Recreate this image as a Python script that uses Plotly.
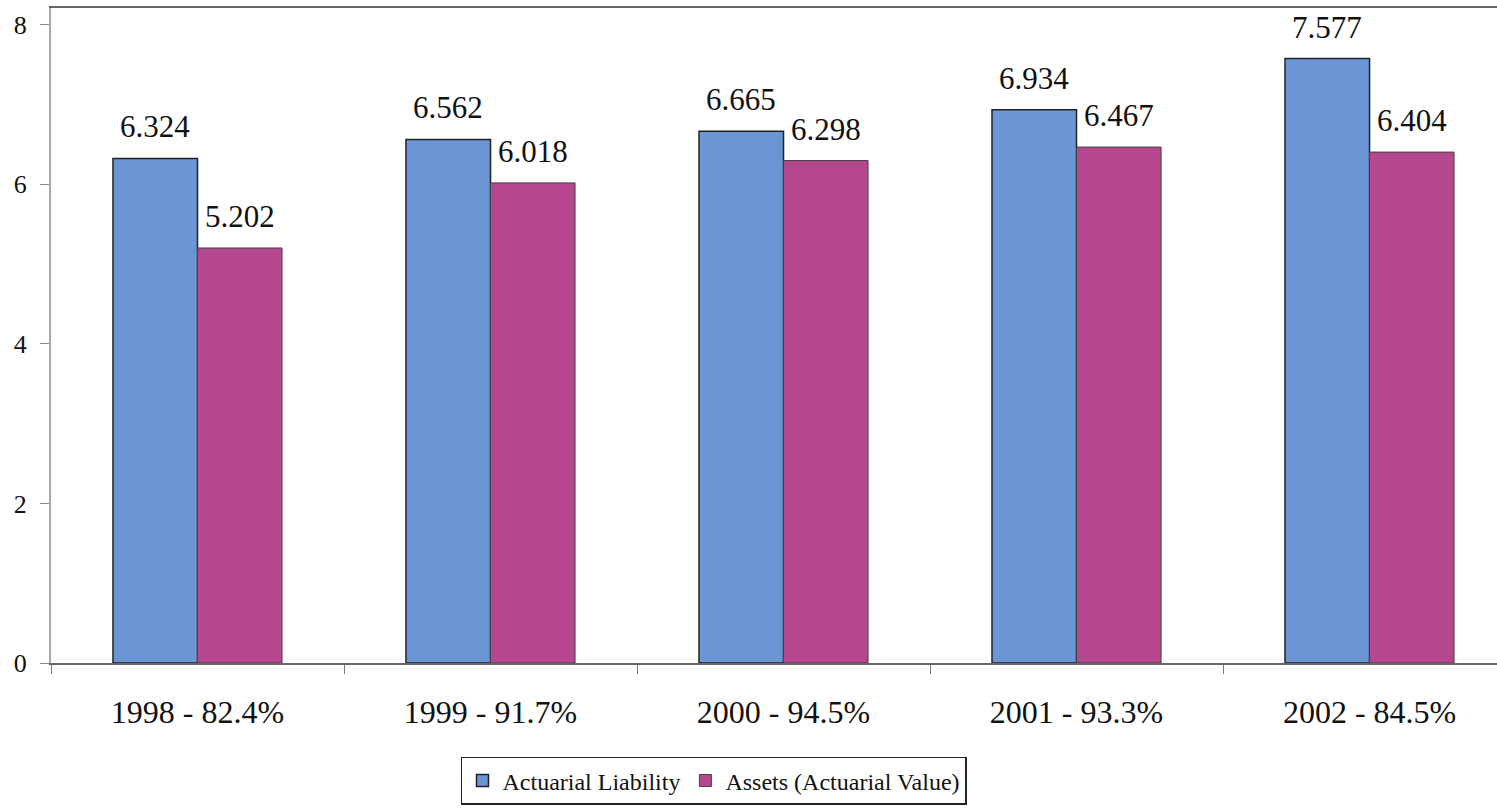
import plotly.graph_objects as go

categories = ["1998 - 82.4%", "1999 - 91.7%", "2000 - 94.5%", "2001 - 93.3%", "2002 - 84.5%"]
liability = [6.324, 6.562, 6.665, 6.934, 7.577]
assets = [5.202, 6.018, 6.298, 6.467, 6.404]
series_names = ["Actuarial Liability", "Assets (Actuarial Value)"]
y_ticks = [0, 2, 4, 6, 8]

BLUE = "#6b95d5"
MAGENTA = "#b4478e"
FONT = "Liberation Serif, Times New Roman, serif"

fig = go.Figure()
fig.add_trace(go.Bar(x=categories, y=liability, name=series_names[0],
                     marker=dict(color=BLUE, line=dict(color="#222", width=1.5))))
fig.add_trace(go.Bar(x=categories, y=assets, name=series_names[1],
                     marker=dict(color=MAGENTA, line=dict(color="#444", width=1))))

annotations = []
for vals, shift in ((liability, -42.5), (assets, 42.5)):
    for c, v in zip(categories, vals):
        annotations.append(dict(x=c, y=v, xref="x", yref="y", text=f"{v:.3f}",
                                showarrow=False, xshift=shift, yshift=12,
                                yanchor="bottom", xanchor="center",
                                font=dict(family=FONT, size=31, color="#111")))

fig.update_layout(
    width=1497, height=812,
    margin=dict(l=51, r=0, t=8, b=149),
    paper_bgcolor="white", plot_bgcolor="white",
    barmode="group", bargap=0.423, bargroupgap=0,
    font=dict(family=FONT, color="#111"),
    annotations=annotations,
    showlegend=True,
    legend=dict(orientation="h", x=0.4585, y=-0.18, xanchor="center", yanchor="middle",
                font=dict(family=FONT, size=24, color="#111"),
                bordercolor="#222", borderwidth=1.5, bgcolor="white",
                itemwidth=30, tracegroupgap=0, traceorder="normal"),
    xaxis=dict(range=[-0.5, 4.435], showgrid=False, showline=True, linecolor="#666",
               linewidth=1.5, mirror=True, ticks="outside", tickson="boundaries",
               ticklen=9, tickcolor="#777", tickfont=dict(family=FONT, size=32, color="#111"),
               ticklabelstandoff=20),
    yaxis=dict(range=[0, 8.21], tickvals=y_ticks, showgrid=False, zeroline=False,
               showline=True, linecolor="#aaa", linewidth=2, ticks="outside",
               ticklen=9, tickcolor="#888",
               tickfont=dict(family=FONT, size=26, color="#111"), ticklabelstandoff=8),
)

fig.write_html("out.html")
